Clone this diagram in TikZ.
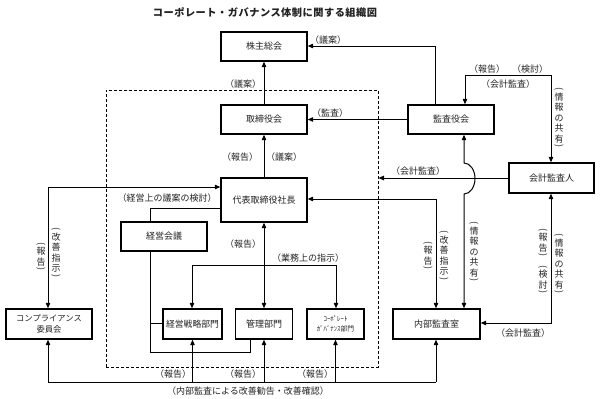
\documentclass[tikz,border=0pt]{standalone}
\usepackage{graphicx}
\usepackage{fontspec}
\setmainfont{Noto Sans CJK JP}
\newfontfamily\titlefont[LetterSpace=5.0]{Noto Sans CJK JP}
\usetikzlibrary{arrows.meta}
\definecolor{txt}{HTML}{222222}
\newcommand{\vo}{\rotatebox[origin=c]{-90}{(}\\[-2pt]}
\newcommand{\vc}{\\[-4pt]\rotatebox[origin=c]{-90}{)}}
\tikzset{
  box/.style={draw=black, line width=1.4pt, fill=white, inner sep=1pt, text=txt,
    minimum height=29pt, font=\fontsize{9}{10.5}\selectfont, align=center},
  conn/.style={draw=black, line width=1pt},
  tip/.style={-{Triangle[length=5.5pt,width=4.5pt]}},
  tips/.style={{Triangle[length=5.5pt,width=4.5pt]}-{Triangle[length=5.5pt,width=4.5pt]}},
  lbl/.style={inner sep=0pt, text=txt, font=\fontsize{9}{10.5}\selectfont},
  vlbl/.style={inner sep=0pt, text=txt, align=center, font=\fontsize{9}{10.5}\selectfont},
}
\begin{document}
\begin{tikzpicture}[x=1pt,y=-1pt]
\useasboundingbox (0,0) rectangle (600,399);
% group
\node[draw=black, line width=1pt, dash pattern=on 3pt off 2pt, minimum width=272pt, minimum height=277pt, inner sep=0pt] (grp) at (242,228.5) {};
% title
\node[lbl, font=\titlefont\bfseries\fontsize{10.2}{12}\selectfont] (title) at (265,13) {コーポレート・ガバナンス体制に関する組織図};
% boxes
\node[box, minimum width=86pt] (kabu) at (264,46.5) {株主総会};
\node[box, minimum width=86pt] (tori) at (264,119.5) {取締役会};
\node[box, minimum width=86pt] (kansa) at (451,119.5) {監査役会};
\node[box, minimum width=85pt, minimum height=30pt] (kaikei) at (551.5,178) {会計監査人};
\node[box, minimum width=86pt, minimum height=44pt] (daihyo) at (264,200) {代表取締役社長};
\node[box, minimum width=86pt] (kaigi) at (164,236.5) {経営会議};
\node[box, minimum width=86pt, minimum height=30pt, font=\fontsize{8.3}{10.5}\selectfont] (comp) at (49,324) {コンプライアンス\\委員会};
\node[box, minimum width=59pt, minimum height=30pt, inner sep=0pt, font=\fontsize{8.8}{10}\selectfont] (senryaku) at (192.5,324) {経営戦略部門};
\node[box, minimum width=57pt, minimum height=30pt] (kanri) at (264,324) {管理部門};
\node[box, minimum width=57pt, minimum height=30pt, font=\fontsize{6.8}{9.5}\selectfont] (cg) at (335.5,324) {ｺｰﾎﾟﾚｰﾄ\\ｶﾞﾊﾞﾅﾝｽ部門};
\node[box, minimum width=87pt, minimum height=30pt] (naibu) at (436.5,324) {内部監査室};
% coordinates
\coordinate (k1) at (435,46);
\coordinate (c1) at (48,187);
\coordinate (n1) at (436,199);
\coordinate (h1) at (464,163);
\coordinate (t1) at (465,75);
\coordinate (t2) at (551,75);
\coordinate (b1) at (551,323);
\coordinate (m1) at (150,208);
\coordinate (m2) at (150,352);
\coordinate (m3) at (250,352);
\coordinate (m4) at (150,323);
\coordinate (g1) at (192,265);
\coordinate (g2) at (336,265);
\coordinate (z0) at (48,382);
\coordinate (z1) at (436,382);
% connectors
\draw[conn, tip] (tori.north) -- (kabu.south);
\draw[conn, tip] (kansa.north -| k1) -- (k1) -- (kabu.east |- k1);
\draw[conn, tip] (kansa.west) -- (tori.east);
\draw[conn, tip] (daihyo.north) -- (tori.south);
\draw[conn, tips] (comp.north -| c1) -- (c1) -- (daihyo.west |- c1);
\draw[conn, tips] (daihyo.east |- n1) -- (n1) -- (naibu.north -| n1);
\draw[conn, tip] (kaikei.west) -- (grp.east |- kaikei.west);
\draw[conn, tips] (kansa.south -| h1) -- (h1) arc[start angle=90, end angle=-90, x radius=11pt, y radius=15.5pt] -- (naibu.north -| h1);
\draw[conn, tips] (kansa.north -| t1) -- (t1) -- (t2) -- (kaikei.north -| t2);
\draw[conn, tips] (kaikei.south -| b1) -- (b1) -- (naibu.east |- b1);
\draw[conn] (daihyo.west |- m1) -- (m1) -- (kaigi.north -| m1);
\draw[conn] (kaigi.south -| m2) -- (m2) -- (m3) -- (kanri.south -| m3);
\draw[conn] (m4) -- (senryaku.west |- m4);
\draw[conn, tips] (daihyo.south) -- (kanri.north);
\draw[conn, tips] (senryaku.north -| g1) -- (g1) -- (g2) -- (cg.north -| g2);
\draw[conn] (z0) -- (z1);
\draw[conn, tip] (z0) -- (comp.south -| z0);
\draw[conn, tip] (senryaku.south |- z0) -- (senryaku.south);
\draw[conn, tip] (kanri.south |- z0) -- (kanri.south);
\draw[conn, tip] (cg.south |- z0) -- (cg.south);
\draw[conn, tip] (z1) -- (naibu.south -| z1);
% labels
\node[lbl] (l1) at (243,84) {（議案）};
\node[lbl] (l2) at (328,40) {（議案）};
\node[lbl] (l3) at (330,113) {（監査）};
\node[lbl] (l4) at (240,157) {（報告）};
\node[lbl] (l5) at (284,157) {（議案）};
\node[lbl] (l6) at (418,171) {（会計監査）};
\node[lbl] (l7) at (487,69) {（報告）};
\node[lbl] (l8) at (530,69) {（検討）};
\node[lbl] (l9) at (508,84) {（会計監査）};
\node[lbl] (l10) at (167,198) {（経営上の議案の検討）};
\node[lbl] (l11) at (243,244) {（報告）};
\node[lbl] (l12) at (308,258) {（業務上の指示）};
\node[lbl] (l13) at (173,374) {（報告）};
\node[lbl] (l14) at (243,374) {（報告）};
\node[lbl] (l15) at (315,374) {（報告）};
\node[lbl] (l16) at (248,391) {（内部監査による改善勧告・改善確認）};
\node[lbl] (l17) at (523,333) {（会計監査）};
% vertical labels
\node[vlbl] (v1) at (41,257) {\vo 報\\告\vc};
\node[vlbl] (v2) at (56,253) {\vo 改\\善\\指\\示\vc};
\node[vlbl] (v3) at (428,256) {\vo 報\\告\vc};
\node[vlbl] (v4) at (444,256) {\vo 改\\善\\指\\示\vc};
\node[vlbl] (v5) at (474,252) {\vo 情\\報\\の\\共\\有\vc};
\node[vlbl] (v6) at (559,118) {\vo 情\\報\\の\\共\\有\vc};
\node[vlbl] (v7) at (543,243) {\vo 報\\告\vc};
\node[vlbl] (v8) at (543,280) {\vo 検\\討\vc};
\node[vlbl] (v9) at (559,264) {\vo 情\\報\\の\\共\\有\vc};
\end{tikzpicture}
\end{document}
